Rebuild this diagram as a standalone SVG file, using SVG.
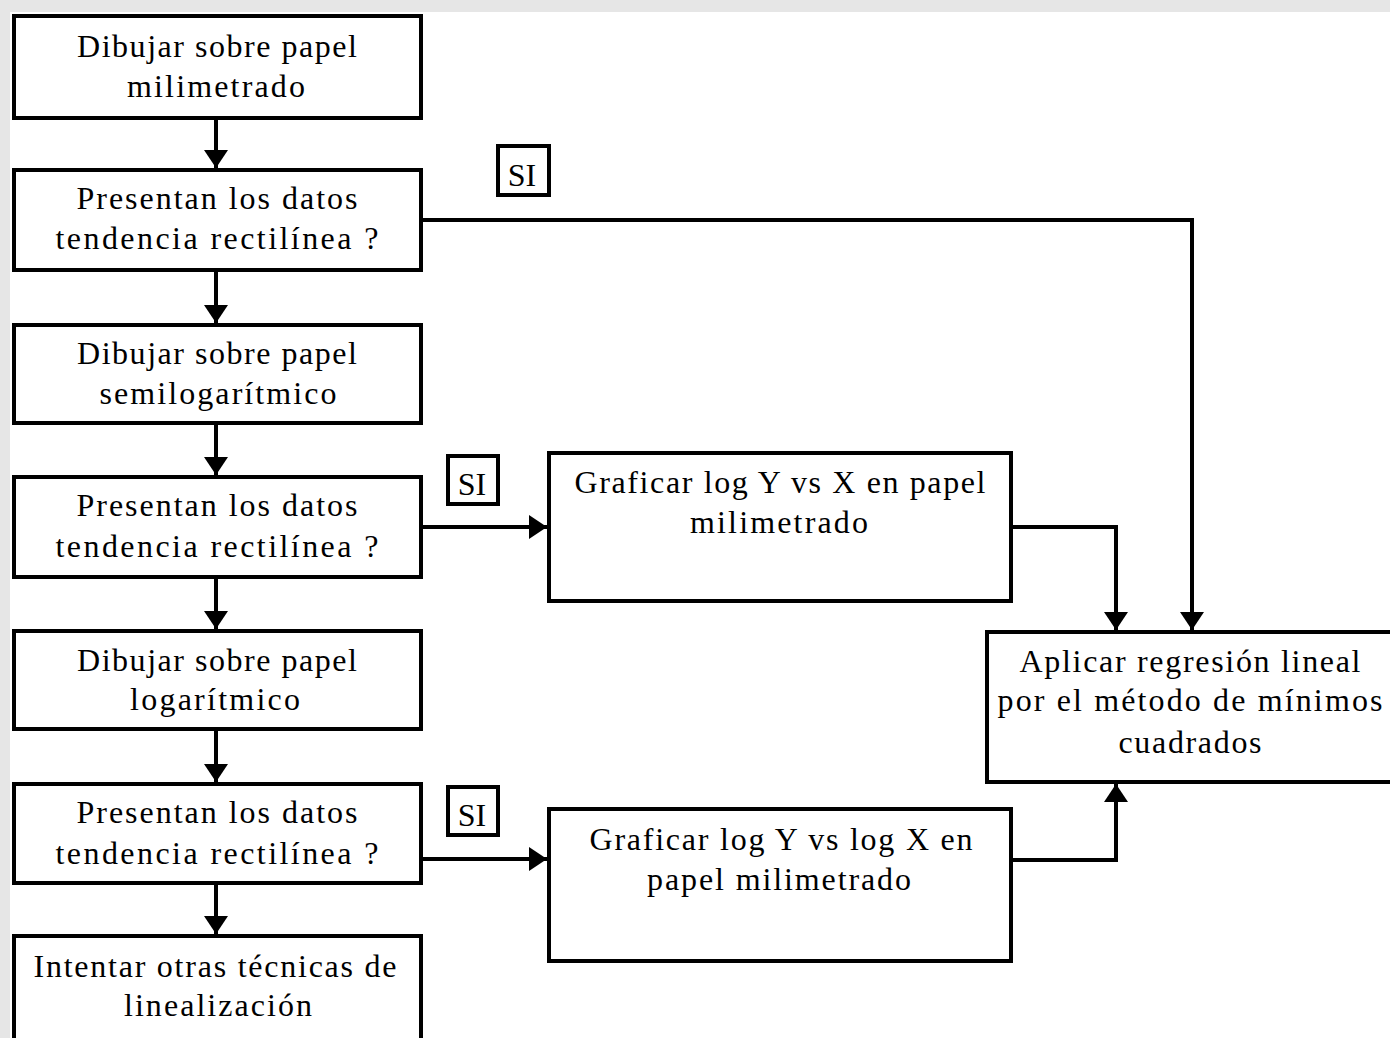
<svg xmlns="http://www.w3.org/2000/svg" width="1390" height="1038" viewBox="0 0 1390 1038">
<style>
.box{fill:#ffffff;stroke:#000;stroke-width:4}
.si{fill:#ffffff;stroke:#000;stroke-width:4}
.t{font-family:"Liberation Serif","Times New Roman",serif;font-size:32px;fill:#000;text-anchor:middle}
.c{fill:none;stroke:#000;stroke-width:4}
</style>
<defs>
<marker id="ah" markerUnits="userSpaceOnUse" markerWidth="20" markerHeight="26" viewBox="0 0 20 26" refX="18" refY="13" orient="auto">
<path d="M0,1 L18,13 L0,25 Z" fill="#000"/>
</marker>
</defs>
<rect x="0" y="0" width="1390" height="1038" fill="#ffffff"/>
<rect x="0" y="0" width="1390" height="12" fill="#e6e6e6"/>
<rect x="0" y="0" width="10" height="1038" fill="#e6e6e6"/>

<g id="connectors">
<path class="c" d="M216,119 V168" marker-end="url(#ah)"/>
<path class="c" d="M216,271 V323" marker-end="url(#ah)"/>
<path class="c" d="M216,424 V475" marker-end="url(#ah)"/>
<path class="c" d="M216,578 V629" marker-end="url(#ah)"/>
<path class="c" d="M216,731 V782" marker-end="url(#ah)"/>
<path class="c" d="M216,884 V934" marker-end="url(#ah)"/>
<path class="c" d="M422,220 H1192 V630" marker-end="url(#ah)"/>
<path class="c" d="M422,527 H547" marker-end="url(#ah)"/>
<path class="c" d="M1012,527 H1116 V630" marker-end="url(#ah)"/>
<path class="c" d="M422,859 H547" marker-end="url(#ah)"/>
<path class="c" d="M1012,860 H1116 V784" marker-end="url(#ah)"/>
</g>

<g id="n1"><rect class="box" x="14" y="16" width="407" height="102"/>
<text class="t" x="217" y="57" textLength="280">Dibujar sobre papel</text>
<text class="t" x="216" y="97" textLength="178">milimetrado</text></g>

<g id="n2"><rect class="box" x="14" y="170" width="407" height="100"/>
<text class="t" x="217" y="209" textLength="281">Presentan los datos</text>
<text class="t" x="217" y="249" textLength="323">tendencia rectilínea  ?</text></g>

<g id="n3"><rect class="box" x="14" y="325" width="407" height="98"/>
<text class="t" x="217" y="364" textLength="280">Dibujar sobre papel</text>
<text class="t" x="218" y="404" textLength="237">semilogarítmico</text></g>

<g id="n4"><rect class="box" x="14" y="477" width="407" height="100"/>
<text class="t" x="217" y="516" textLength="281">Presentan los datos</text>
<text class="t" x="217" y="557" textLength="323">tendencia rectilínea  ?</text></g>

<g id="n5"><rect class="box" x="14" y="631" width="407" height="98"/>
<text class="t" x="217" y="671" textLength="280">Dibujar sobre papel</text>
<text class="t" x="215" y="710" textLength="170">logarítmico</text></g>

<g id="n6"><rect class="box" x="14" y="784" width="407" height="99"/>
<text class="t" x="217" y="823" textLength="281">Presentan los datos</text>
<text class="t" x="217" y="864" textLength="323">tendencia rectilínea  ?</text></g>

<g id="n7"><rect class="box" x="14" y="936" width="407" height="110"/>
<text class="t" x="215" y="977" textLength="363">Intentar otras técnicas de</text>
<text class="t" x="218" y="1016" textLength="188">linealización</text></g>

<g id="n8"><rect class="box" x="549" y="453" width="462" height="148"/>
<text class="t" x="780" y="493" textLength="411">Graficar log Y vs X en papel</text>
<text class="t" x="779" y="533" textLength="178">milimetrado</text></g>

<g id="n9"><rect class="box" x="549" y="809" width="462" height="152"/>
<text class="t" x="781" y="850" textLength="383">Graficar log Y vs log X en</text>
<text class="t" x="779" y="890" textLength="264">papel milimetrado</text></g>

<g id="n10"><rect class="box" x="987" y="632" width="410" height="150"/>
<text class="t" x="1190" y="672" textLength="341">Aplicar regresión lineal</text>
<text class="t" x="1190" y="711" textLength="385">por el método de mínimos</text>
<text class="t" x="1190" y="753" textLength="143">cuadrados</text></g>

<g id="si1"><rect class="si" x="498" y="146" width="51" height="49"/>
<text class="t" x="522" y="186">SI</text></g>
<g id="si2"><rect class="si" x="448" y="456" width="50" height="48"/>
<text class="t" x="472" y="495">SI</text></g>
<g id="si3"><rect class="si" x="448" y="787" width="50" height="48"/>
<text class="t" x="472" y="826">SI</text></g>
</svg>
